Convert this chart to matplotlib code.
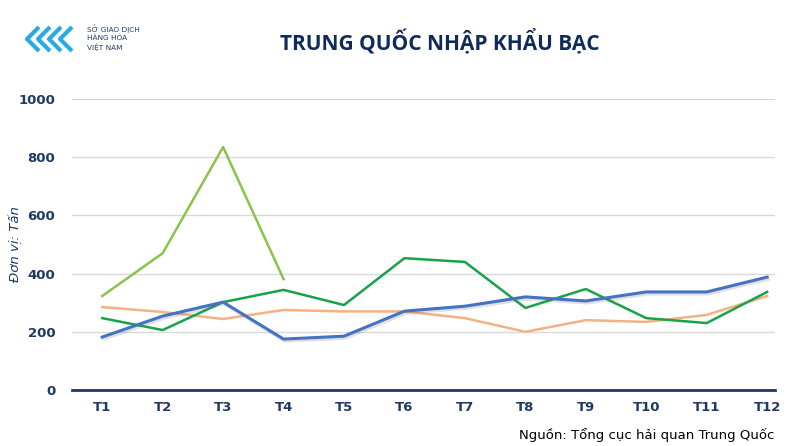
import matplotlib
matplotlib.use("Agg")
import matplotlib.pyplot as plt
import matplotlib.patheffects as pe

months = ["T1","T2","T3","T4","T5","T6","T7","T8","T9","T10","T11","T12"]
blue = [182,254,302,175,185,271,288,320,306,337,337,388]
green = [247,206,302,344,292,453,440,282,347,247,230,337]
orange = [285,268,244,275,270,270,247,200,240,234,258,323]
lightgreen = [323,470,835,381]

fig = plt.figure(figsize=(8,4.46), dpi=100)
W, H = 800, 446
ax = fig.add_axes([72/W, 1-390/H, (775-72)/W, (390-99)/H])
x = list(range(12))
ax.plot(x, orange, color="#F4B183", lw=1.8, zorder=3)
ax.plot(x, blue, color="#4472C4", lw=2.2, zorder=4,
        path_effects=[pe.SimpleLineShadow(offset=(1,-1.5), alpha=0.2, shadow_color="#666666"), pe.Normal()])
ax.plot(x, green, color="#16A34A", lw=1.8, zorder=3)
ax.plot(range(len(lightgreen)), lightgreen, color="#8BC34A", lw=1.8, zorder=3)

ax.set_xlim(-0.5, 11.13)
ax.set_ylim(0, 1000)
ax.set_yticks([0,200,400,600,800,1000])
ax.set_xticks(x)
ax.set_xticklabels(months)
for s in ["top","right","left"]:
    ax.spines[s].set_visible(False)
ax.spines["bottom"].set_color("#1F3864")
ax.spines["bottom"].set_linewidth(2)
ax.grid(axis="y", color="#D9D9D9", lw=1)
ax.set_axisbelow(True)
ax.tick_params(length=0, labelsize=9.5, colors="#1F3864")
ax.tick_params(axis="y", pad=12)
ax.tick_params(axis="x", pad=8)
for t in ax.get_xticklabels() + ax.get_yticklabels():
    t.set_fontweight("bold")
ax.set_ylabel("Đơn vị: Tấn", fontstyle="italic", color="#1F3864", fontsize=9.5)
ax.yaxis.set_label_coords(-50/703, 0.5)

fig.text(0.55, 0.905, "TRUNG QUỐC NHẬP KHẨU BẠC", ha="center", va="center",
         fontsize=15, fontweight="bold", color="#0F2B5B", family="Open Sans")
fig.text(0.968, 0.008, "Nguồn: Tổng cục hải quan Trung Quốc", ha="right", va="bottom",
         fontsize=9.5, color="#000000")

# logo
lax = fig.add_axes([25/W, 1-53/H, 58/W, 28/H])
lax.axis("off")
lax.set_xlim(0, 58); lax.set_ylim(0, 28)
for i in range(4):
    x0 = i*11
    lax.plot([x0+14, x0+2, x0+14], [26, 14, 2], color="#29ABE2", lw=3, solid_capstyle="butt")
fig.text(87/W, 1-29/H, "SỞ GIAO DỊCH", fontsize=5.3, color="#1F3864", va="center")
fig.text(87/W, 1-38/H, "HÀNG HÓA", fontsize=5.3, color="#1F3864", va="center")
fig.text(87/W, 1-47/H, "VIỆT NAM", fontsize=5.3, color="#1F3864", va="center")

fig.savefig("out.png", dpi=100)
